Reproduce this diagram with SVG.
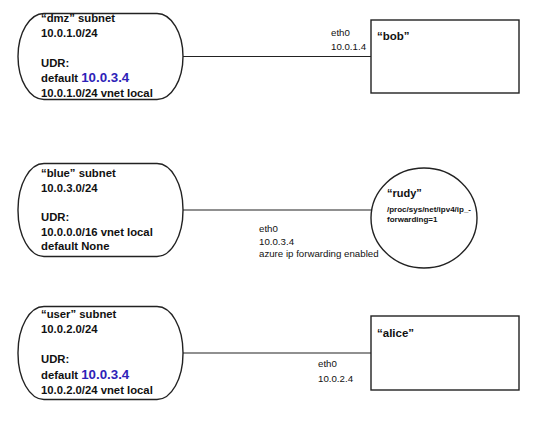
<svg xmlns="http://www.w3.org/2000/svg" width="540" height="424" viewBox="0 0 540 424">
<style>
.shape{fill:#fff;stroke:#222;stroke-width:1.4}
.conn{stroke:#222;stroke-width:1.2;fill:none}
.b{font-family:"Liberation Sans",Arial,sans-serif;font-weight:bold;font-size:11.3px;fill:#111}
.r{font-family:"Liberation Sans",Arial,sans-serif;font-size:9.7px;fill:#111}
.blue{fill:#2e22b8;font-size:13.3px}
.title{font-size:11.5px}
.small{font-size:8px}
</style>
<rect width="540" height="424" fill="#fff"/>
<g id="connectors">
<line class="conn" x1="183" y1="56.5" x2="371" y2="56.5"/>
<line class="conn" x1="183" y1="210" x2="372" y2="210"/>
<line class="conn" x1="183" y1="353" x2="371" y2="353"/>
</g>
<g id="dmz">
<rect class="shape" x="18" y="13.5" width="165" height="86" rx="26" ry="43"/>
<text class="b" x="41" y="22">“dmz” subnet</text>
<text class="b" x="41" y="37">10.0.1.0/24</text>
<text class="b" x="41" y="67">UDR:</text>
<text class="b" x="41" y="82">default <tspan class="blue">10.0.3.4</tspan></text>
<text class="b" x="41" y="97">10.0.1.0/24 vnet local</text>
</g>
<g id="bob">
<rect class="shape" x="371" y="20" width="148" height="73"/>
<text class="b title" x="377" y="40">“bob”</text>
<text class="r" x="331" y="36">eth0</text>
<text class="r" x="331" y="50">10.0.1.4</text>
</g>
<g id="blue">
<rect class="shape" x="18" y="163.5" width="165" height="93" rx="26" ry="46"/>
<text class="b" x="41" y="177">“blue” subnet</text>
<text class="b" x="41" y="192">10.0.3.0/24</text>
<text class="b" x="41" y="221">UDR:</text>
<text class="b" x="41" y="236">10.0.0.0/16 vnet local</text>
<text class="b" x="41" y="250">default None</text>
</g>
<g id="rudy">
<ellipse class="shape" cx="424" cy="218" rx="53" ry="50"/>
<text class="b" x="387" y="197" style="font-size:11px">“rudy”</text>
<text class="b small" x="387" y="212">/proc/sys/net/ipv4/ip_-</text>
<text class="b small" x="387" y="222">forwarding=1</text>
<text class="r" x="259" y="232">eth0</text>
<text class="r" x="259" y="244.5">10.0.3.4</text>
<text class="r" x="259" y="257">azure ip forwarding enabled</text>
</g>
<g id="user">
<rect class="shape" x="18" y="306.5" width="165" height="93" rx="26" ry="46"/>
<text class="b" x="41" y="318">“user” subnet</text>
<text class="b" x="41" y="333">10.0.2.0/24</text>
<text class="b" x="41" y="363">UDR:</text>
<text class="b" x="41" y="379">default <tspan class="blue">10.0.3.4</tspan></text>
<text class="b" x="41" y="394">10.0.2.0/24 vnet local</text>
</g>
<g id="alice">
<rect class="shape" x="371" y="316" width="148" height="74"/>
<text class="b title" x="377" y="337">“alice”</text>
<text class="r" x="318" y="367">eth0</text>
<text class="r" x="318" y="381.5">10.0.2.4</text>
</g>
</svg>
